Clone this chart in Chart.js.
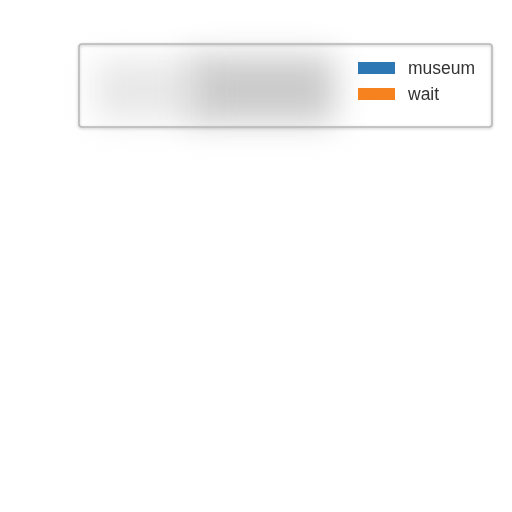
<!DOCTYPE html>
<html>
<head>
<meta charset="utf-8">
<script src="https://cdn.jsdelivr.net/npm/chart.js@4"></script>
<style>
html,body{margin:0;padding:0;background:#fff;}
#wrap{width:512px;height:512px;}
</style>
</head>
<body>
<div id="wrap"><canvas id="c" width="512" height="512"></canvas></div>
<script>
const categories = [];
const seriesNames = ["museum", "wait"];
const museumValues = [];
const waitValues = [];
const seriesColors = ["#2c77b4", "#f5821f"];

const legendBoxPlugin = {
  id: 'legendBox',
  afterDraw(chart) {
    const ctx = chart.ctx;
    const left = 79, top = 44, right = 492, bottom = 127;
    ctx.save();
    // soft smudge
    ctx.filter = 'blur(16px)';
    ctx.fillStyle = 'rgba(175,175,175,0.65)';
    ctx.fillRect(190, 56, 145, 66);
    ctx.fillStyle = 'rgba(210,210,210,0.5)';
    ctx.fillRect(95, 60, 110, 60);
    ctx.filter = 'none';
    // frame
    ctx.shadowColor = 'rgba(0,0,0,0.25)';
    ctx.shadowBlur = 3;
    ctx.shadowOffsetY = 1;
    ctx.strokeStyle = '#b8b8b8';
    ctx.lineWidth = 1.5;
    ctx.beginPath();
    ctx.roundRect(left, top, right - left, bottom - top, 3);
    ctx.stroke();
    ctx.restore();
    // legend entries from datasets
    ctx.save();
    ctx.font = '17.5px "Liberation Sans"';
    ctx.textBaseline = 'middle';
    chart.data.datasets.forEach((ds, i) => {
      const y = 62 + i * 26;
      ctx.fillStyle = ds.backgroundColor;
      ctx.fillRect(358, y, 37, 12);
      ctx.fillStyle = '#333';
      ctx.fillText(ds.label, 408, y + 7);
    });
    ctx.restore();
  }
};

new Chart(document.getElementById('c'), {
  type: 'bar',
  data: {
    labels: categories,
    datasets: [
      { label: seriesNames[0], data: museumValues, backgroundColor: seriesColors[0] },
      { label: seriesNames[1], data: waitValues, backgroundColor: seriesColors[1] }
    ]
  },
  options: {
    responsive: false,
    animation: false,
    scales: { x: { display: false }, y: { display: false } },
    plugins: {
      tooltip: { enabled: false },
      legend: { display: false }
    }
  },
  plugins: [legendBoxPlugin]
});
</script>
</body>
</html>
